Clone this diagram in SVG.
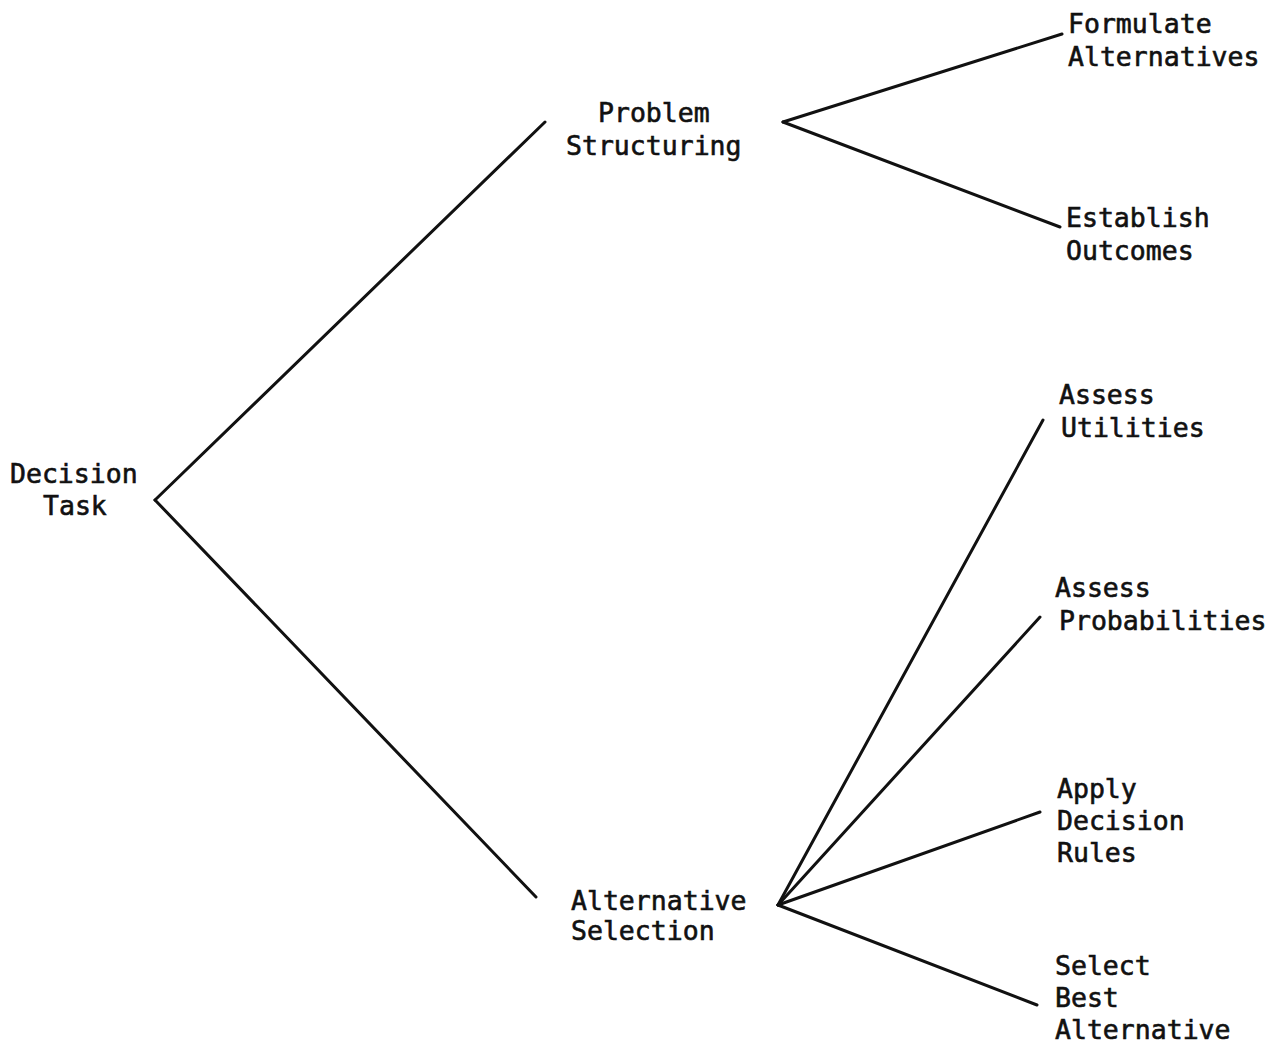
<svg xmlns="http://www.w3.org/2000/svg" width="1278" height="1051" viewBox="0 0 1278 1051">
  <style>
    .bg { fill: #ffffff; }
    .edge { stroke: #111111; stroke-width: 3; stroke-linecap: round; fill: none; }
    .label { font-family: "DejaVu Sans Mono", "Liberation Mono", monospace; font-size: 26.5px; fill: #111111; stroke: #111111; stroke-width: 0.6; }
  </style>
  <rect class="bg" x="0" y="0" width="1278" height="1051"/>

  <!-- tree branches -->
  <g id="connectors">
    <line class="edge" x1="155" y1="500" x2="545" y2="122"/>
    <line class="edge" x1="155" y1="500" x2="536" y2="897"/>
    <line class="edge" x1="783" y1="122" x2="1062" y2="34"/>
    <line class="edge" x1="783" y1="122" x2="1060" y2="227"/>
    <line class="edge" x1="778" y1="905" x2="1043" y2="420"/>
    <line class="edge" x1="778" y1="905" x2="1040" y2="617"/>
    <line class="edge" x1="778" y1="905" x2="1040" y2="812"/>
    <line class="edge" x1="778" y1="905" x2="1037" y2="1005"/>
  </g>

  <g id="node-decision-task">
    <text class="label" x="10" y="483">Decision</text>
    <text class="label" x="43" y="515">Task</text>
  </g>

  <g id="node-problem-structuring">
    <text class="label" x="598" y="122">Problem</text>
    <text class="label" x="566" y="155">Structuring</text>
  </g>

  <g id="node-alternative-selection">
    <text class="label" x="571" y="910">Alternative</text>
    <text class="label" x="571" y="940">Selection</text>
  </g>

  <g id="node-formulate-alternatives">
    <text class="label" x="1068" y="33">Formulate</text>
    <text class="label" x="1068" y="66">Alternatives</text>
  </g>

  <g id="node-establish-outcomes">
    <text class="label" x="1066" y="227">Establish</text>
    <text class="label" x="1066" y="260">Outcomes</text>
  </g>

  <g id="node-assess-utilities">
    <text class="label" x="1059" y="404">Assess</text>
    <text class="label" x="1061" y="437">Utilities</text>
  </g>

  <g id="node-assess-probabilities">
    <text class="label" x="1055" y="597">Assess</text>
    <text class="label" x="1059" y="630">Probabilities</text>
  </g>

  <g id="node-apply-decision-rules">
    <text class="label" x="1057" y="798">Apply</text>
    <text class="label" x="1057" y="830">Decision</text>
    <text class="label" x="1057" y="862">Rules</text>
  </g>

  <g id="node-select-best-alternative">
    <text class="label" x="1055" y="975">Select</text>
    <text class="label" x="1055" y="1007">Best</text>
    <text class="label" x="1055" y="1039">Alternative</text>
  </g>
</svg>
